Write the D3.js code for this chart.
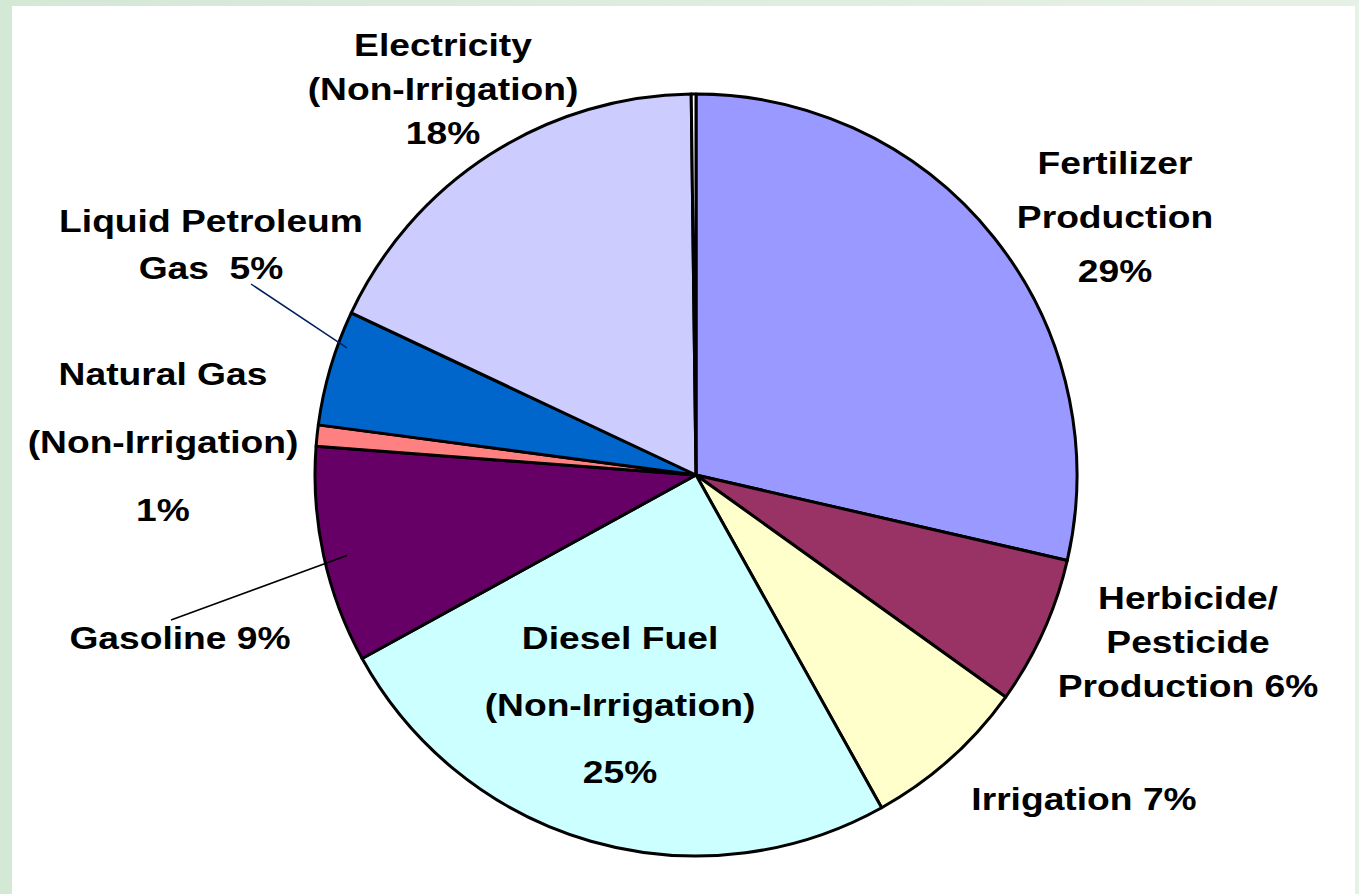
<!DOCTYPE html>
<html>
<head>
<meta charset="utf-8">
<script src="https://cdn.jsdelivr.net/npm/d3@7"></script>
<style>
  html, body { margin: 0; padding: 0; background: #fff; }
  svg { display: block; }
</style>
</head>
<body>
<svg id="chart" width="1359" height="894"></svg>
<script>
// slice data, clockwise from 12 o'clock
const categories = ["Fertilizer Production", "Herbicide/Pesticide Production", "Irrigation",
  "Diesel Fuel (Non-Irrigation)", "Gasoline", "Natural Gas (Non-Irrigation)",
  "Liquid Petroleum Gas", "Electricity (Non-Irrigation)", "Other"];
const values = [28.6, 6.3, 7.0, 25.1, 9.2, 0.9, 4.9, 17.8, 0.2];
const labelLines = [
  ["Fertilizer", "Production", "29%"],
  ["Herbicide/", "Pesticide", "Production 6%"],
  ["Irrigation 7%"],
  ["Diesel Fuel", "(Non-Irrigation)", "25%"],
  ["Gasoline 9%"],
  ["Natural Gas", "(Non-Irrigation)", "1%"],
  ["Liquid Petroleum", "Gas  5%"],
  ["Electricity", "(Non-Irrigation)", "18%"],
  []
];
const colors = ["#9999FF", "#993366", "#FFFFCC", "#CCFFFF", "#660066", "#FF8080", "#0066CC", "#CCCCFF", "#FFFFFF"];

// label placement (x centre, first baseline, line step) -- hand placed like the original
const labelPos = [
  {x: 1115, y: 174, step: 54},
  {x: 1188, y: 609, step: 44},
  {x: 1084, y: 810, step: 0},
  {x: 620, y: 649, step: 67},
  {x: 180, y: 649, step: 0},
  {x: 163, y: 385, step: 68},
  {x: 211, y: 232, step: 47},
  {x: 443, y: 56, step: 44},
  null
];
// leader lines: start near label, end inside the slice (angle in degrees, radius fraction)
const leaders = [
  {i: 4, from: [171, 620], angle: 257, rf: 0.94, color: "#000000"},
  {i: 6, from: [251, 284], angle: 290, rf: 0.975, color: "#002060"}
];

const svg = d3.select("#chart");
const W = 1359, H = 894;

// green frame background
const defs = svg.append("defs");
const bg = defs.append("linearGradient").attr("id", "bg")
  .attr("x1", "0%").attr("x2", "100%").attr("y1", "0%").attr("y2", "0%");
bg.append("stop").attr("offset", "0%").attr("stop-color", "#d4e8d6");
bg.append("stop").attr("offset", "100%").attr("stop-color", "#e6f1e6");
svg.append("rect").attr("width", W).attr("height", H).attr("fill", "url(#bg)");
svg.append("rect").attr("x", 12).attr("y", 6).attr("width", 1343).attr("height", H - 6).attr("fill", "#fff");

const cx = 696, cy = 475, r = 381;

const pie = d3.pie().sort(null).value(d => d);
const arcs = pie(values);
const arc = d3.arc().innerRadius(0).outerRadius(r);

const g = svg.append("g").attr("transform", `translate(${cx},${cy})`);
g.selectAll("path")
  .data(arcs)
  .enter()
  .append("path")
  .attr("d", arc)
  .attr("fill", (d, i) => colors[i])
  .attr("stroke", "#000")
  .attr("stroke-width", 3)
  .attr("stroke-linejoin", "round");

// leader lines
leaders.forEach(l => {
  const a = l.angle * Math.PI / 180;
  const rr = r * l.rf;
  const ex = cx + rr * Math.sin(a), ey = cy - rr * Math.cos(a);
  svg.append("line")
    .attr("x1", l.from[0]).attr("y1", l.from[1])
    .attr("x2", ex).attr("y2", ey)
    .attr("stroke", l.color)
    .attr("stroke-width", 1.5);
});

// labels (text in the original is stretched wider than plain Arial)
const stretch = 1.22;
labelLines.forEach((lines, i) => {
  const p = labelPos[i];
  if (!p) return;
  const t = svg.append("text")
    .attr("transform", `translate(${p.x},${p.y}) scale(${stretch},1)`)
    .attr("font-family", "Liberation Sans, Arial, sans-serif")
    .attr("font-weight", "bold")
    .attr("font-size", "30.5px")
    .attr("fill", "#000")
    .attr("text-anchor", "middle");
  lines.forEach((s, k) => {
    t.append("tspan")
      .attr("x", 0)
      .attr("y", k * p.step)
      .style("white-space", "pre")
      .text(s);
  });
});
</script>
</body>
</html>
